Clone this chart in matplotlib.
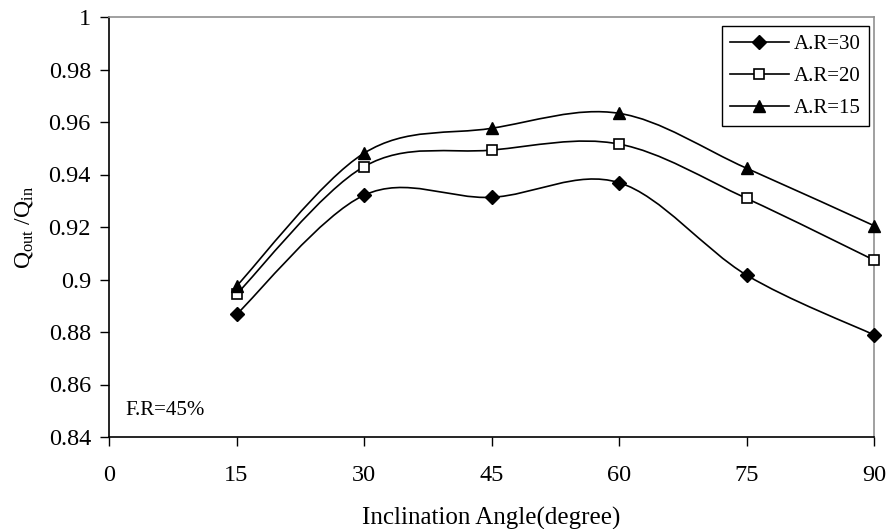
import matplotlib
matplotlib.use("Agg")
import matplotlib.pyplot as plt
from matplotlib.path import Path
from matplotlib.patches import PathPatch
from matplotlib.lines import Line2D
import numpy as np

plt.rcParams['font.family'] = ['Liberation Serif', 'DejaVu Serif']
plt.rcParams['mathtext.fontset'] = 'custom'
plt.rcParams['mathtext.rm'] = 'Liberation Serif'
plt.rcParams['mathtext.it'] = 'Liberation Serif:italic'

angles = [15, 30, 45, 60, 75, 90]
ar30 = [0.8867, 0.9321, 0.9313, 0.9369, 0.9017, 0.8789]
ar20 = [0.8944, 0.9430, 0.9493, 0.9516, 0.9309, 0.9074]
ar15 = [0.8975, 0.9481, 0.9576, 0.9633, 0.9424, 0.9205]
series_labels = ['A.R=30', 'A.R=20', 'A.R=15']
x_ticks = [0, 15, 30, 45, 60, 75, 90]
y_ticks = [0.84, 0.86, 0.88, 0.9, 0.92, 0.94, 0.96, 0.98, 1]
y_tick_labels = ['0.84', '0.86', '0.88', '0.9', '0.92', '0.94', '0.96', '0.98', '1']

fig = plt.figure(figsize=(8.88, 5.29), dpi=100)
ax = fig.add_axes([109/888, 1-437/529, (874-109)/888, (437-17)/529])


def smooth_path(xs, ys):
    pts = np.column_stack([xs, ys]).astype(float)
    n = len(pts)
    verts = [pts[0]]
    codes = [Path.MOVETO]
    for i in range(n - 1):
        p0 = pts[i - 1] if i > 0 else pts[i]
        p1 = pts[i]
        p2 = pts[i + 1]
        p3 = pts[i + 2] if i + 2 < n else pts[i + 1]
        c1 = p1 + (p2 - p0) / 6.0
        c2 = p2 - (p3 - p1) / 6.0
        verts += [c1, c2, p2]
        codes += [Path.CURVE4] * 3
    return Path(verts, codes)


styles = [
    dict(marker='D', ms=6.8, mfc='black', mec='black'),
    dict(marker='s', ms=7.2, mfc='white', mec='black', mew=1.2),
    dict(marker='^', ms=8.5, mfc='black', mec='black'),
]
handles = []
for ys, st, lab in zip([ar30, ar20, ar15], styles, series_labels):
    ax.add_patch(PathPatch(smooth_path(angles, ys), fill=False, edgecolor='black', lw=1.2, zorder=2))
    ax.plot(angles, ys, linestyle='none', zorder=3, clip_on=False, **st)
    handles.append(Line2D([], [], color='black', lw=1.2, **st))

ax.set_xlim(0, 90)
ax.set_ylim(0.84, 1.0)
ax.set_xticks(x_ticks)
ax.set_xticklabels([str(v) for v in x_ticks])
ax.set_yticks(y_ticks)
ax.set_yticklabels(y_tick_labels)
ax.tick_params(axis='both', direction='out', length=6.5, width=1, labelsize=17.5, color='black')
ax.tick_params(axis='x', pad=14)
ax.tick_params(axis='y', pad=6.5)

for s in ['left', 'bottom']:
    ax.spines[s].set_color('black')
    ax.spines[s].set_linewidth(1.2)
for s in ['top', 'right']:
    ax.spines[s].set_color('#909090')
    ax.spines[s].set_linewidth(1.2)

ax.set_xlabel('Inclination Angle(degree)', fontsize=18, labelpad=15)
ax.set_ylabel(r'Q$_{\mathrm{out}}$ /Q$_{\mathrm{in}}$', fontsize=17, labelpad=10)

ax.text(0.022, 0.064, 'F.R=45%', transform=ax.transAxes, fontsize=15, ha='left', va='center')

leg = ax.legend(handles=handles, labels=series_labels, loc='upper right',
                bbox_to_anchor=(0.9935, 0.9786), fontsize=15, frameon=True, fancybox=False,
                edgecolor='black', framealpha=1, handlelength=2.8, borderpad=0.4,
                labelspacing=0.6, handletextpad=0.25, borderaxespad=0)
leg.get_frame().set_linewidth(1.0)

fig.savefig('out.png', dpi=100)
